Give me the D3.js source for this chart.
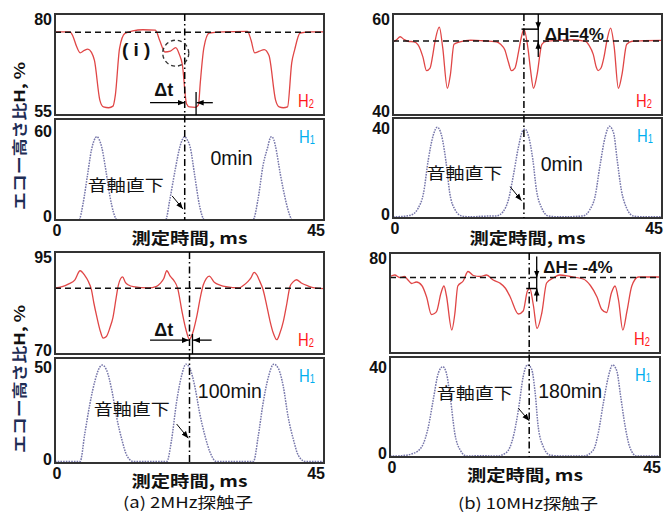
<!DOCTYPE html>
<html lang="ja"><head><meta charset="utf-8">
<script src="https://cdn.jsdelivr.net/npm/d3@7/dist/d3.min.js"></script>
<style>
html,body{margin:0;padding:0;background:#fff;}
svg{display:block;font-family:"Liberation Sans",Arial,sans-serif;}
</style></head><body>
<svg id="chart" width="664" height="512"></svg>
<script>
// ---------------- DATA ----------------
const X_TICKS = [0, 45];
// (a) 2MHz, 0 min : H2 echo height ratio (%)
const a0_H2 = [[0,75.6],[2.5,75.6],[3.0,74.5],[3.6,72],[4.2,70.4],[4.9,71.0],[5.5,71.3],[6.1,70.5],[6.6,68.5],[7.5,58.7],[8.1,57.0],[9.0,56.8],[9.7,57.2],[10.1,60],[10.8,71.5],[11.7,75.2],[13,75.8],[14.7,76.1],[16.8,76.0],[17.5,73.5],[18.4,70.6],[19.3,70.8],[20.2,71.7],[20.8,70.0],[21.3,67.5],[22.0,57.8],[22.5,57.0],[23.5,56.9],[24.0,57.5],[24.3,62.9],[24.9,71.6],[25.8,75.3],[28,75.6],[32.2,75.7],[32.8,73.5],[33.4,70.4],[34.2,70.8],[35.0,71.2],[35.8,69.7],[36.9,58.7],[37.5,57.0],[38.2,56.8],[38.9,57.0],[39.6,67.9],[40.1,71.2],[41.0,75.3],[43,75.6],[45,75.6]];
// (a) 2MHz, 0 min : H1
const a0_H1 = [[0,0],[4.0,0],[4.7,11.3],[5.4,29.4],[6.1,47.5],[6.5,53.5],[7.0,56.5],[7.4,54.5],[7.8,49.7],[8.5,33.9],[9.2,15.8],[9.8,5],[10.4,0],[18.5,0],[19.2,13.6],[20.1,33.9],[20.9,49.7],[21.3,54.5],[21.7,56.5],[22.1,54.5],[22.6,49.7],[23.4,29.4],[24.1,11.3],[24.6,3],[25.0,0],[33.1,0],[34.0,15],[34.8,37],[35.6,49.7],[35.9,54.5],[36.2,56.5],[36.6,54.5],[36.9,49.7],[37.7,31],[38.7,11.3],[39.2,4],[39.7,0],[45,0]];
// (b) 10MHz, 0 min : H2
const b0_H2 = [[0,54.5],[0.6,54.9],[1.2,55.5],[1.8,55.0],[2.5,54.6],[3.5,54.5],[4.2,53.9],[5.0,51.5],[5.6,48.8],[6.2,49.3],[6.6,51.5],[7.0,54.4],[7.75,57.4],[8.3,53.5],[9.1,45.3],[9.6,48],[10.2,54],[11.2,54.5],[13,54.8],[15,54.7],[17.3,54.5],[18.0,54.0],[18.7,52.9],[19.3,50.5],[19.8,48.8],[20.4,49.3],[21.0,52.5],[21.4,55],[21.9,57.0],[22.6,53.0],[23.0,49],[23.5,45.3],[24.1,48],[24.9,54],[25.6,54.6],[28,54.8],[30,54.9],[32.2,54.6],[32.8,53.8],[33.5,52],[34.0,49.5],[34.3,48.8],[34.8,49.3],[35.3,51.5],[35.8,54.8],[36.4,57.2],[37.0,53.5],[37.7,45.3],[38.3,48],[39.1,54],[40,54.6],[42,54.7],[45,54.8]];
// (b) 10MHz, 0 min : H1
const b0_H1 = [[0,0.5],[2.3,0.9],[3.4,1.8],[4.2,4.3],[5.1,11],[5.9,25.8],[6.75,36.9],[7.4,40.3],[8.1,36.9],[8.9,24.3],[9.5,11],[10.4,3.6],[11.5,0.9],[13,0.5],[15,0.8],[17.3,0.9],[18.4,2.8],[19.3,8],[20.1,18.4],[21.0,31.7],[21.7,38.8],[22.1,39.5],[22.6,37],[23.4,25.8],[24.0,12.4],[24.9,4.3],[26,0.9],[28,0.5],[31.8,0.9],[32.9,3.6],[33.8,9.5],[34.6,22.8],[35.5,36.1],[36.2,40.7],[36.9,37.8],[37.5,25.8],[38.2,12.4],[39.1,4.3],[40.2,0.9],[42,0.5],[45,0.5]];
// (a) 2MHz, 100 min : H2
const a1_H2 = [[0,86.2],[1.2,86.5],[2.3,87.2],[3.3,88.1],[4.2,90.4],[5.0,89.2],[5.5,88],[6.1,85.7],[6.5,82.5],[7.0,79.1],[7.6,75.5],[8.05,73.9],[8.6,74.3],[9.2,76.5],[9.7,79],[10.2,83.5],[10.6,86.9],[11.3,88.9],[11.8,87.5],[12.3,86.9],[13.1,86.5],[15.6,86.2],[17.0,86.6],[17.6,87.3],[18.2,88.5],[18.7,90.4],[19.3,89],[19.9,88],[20.5,86.2],[21.3,80],[21.9,76],[22.5,73.6],[23.0,75],[23.7,79.1],[24.4,84.5],[24.8,86.9],[25.3,88.5],[25.8,89.1],[26.7,87.5],[27.6,86.9],[28.6,86.5],[30.8,86.2],[31.5,86.8],[32.3,87.8],[32.8,88.7],[33.3,90],[33.8,89.3],[34.2,88],[34.8,85.8],[35.4,82],[35.95,78.2],[36.5,75.2],[37.1,73.5],[37.6,75],[38.2,78],[38.8,82.5],[39.3,86.5],[39.8,87.6],[40.4,88.2],[41.2,87.4],[42.3,86.7],[43.4,86.2],[45,86]];
// (a) 2MHz, 100 min : H1
const a1_H1 = [[0,0.8],[4.2,0.8],[5.0,15.6],[5.85,31],[6.7,43],[7.5,50],[7.9,51],[8.6,48.6],[9.5,38],[10.3,24],[11.2,12],[12.0,4],[13.1,0.8],[18.7,0.8],[19.5,12],[20.3,31],[21.2,45.8],[21.9,51.5],[22.6,49],[23.4,39.7],[24.2,26],[25.1,14],[25.9,5.9],[27,0.8],[33.2,0.8],[34.0,14],[34.8,31],[35.7,44.8],[36.6,51.5],[37.4,49],[38.2,39.7],[39.0,24],[39.9,12],[40.7,4],[41.9,0.8],[45,0.8]];
// (b) 10MHz, 180 min : H2
const b1_H2 = [[0,75.3],[0.8,75.6],[1.6,75.1],[2.4,75.3],[3.0,74.6],[3.6,73.9],[4.4,74.2],[5.3,73.5],[6.1,71.2],[6.9,67.7],[7.4,67.9],[7.8,68.4],[8.5,72],[9.0,73.4],[9.4,71.5],[10.3,64.6],[10.8,67.8],[11.3,73.4],[12.2,74.4],[13.0,76.3],[13.9,75.5],[15,75.3],[16.1,75.6],[17.2,74.6],[18.3,74.0],[19.2,73.0],[20.0,71.3],[21.4,67.8],[22.2,68.4],[22.9,72.4],[23.3,72.9],[23.9,69.5],[24.5,64.9],[25.3,68],[26.1,74],[27.2,75],[28.3,75.6],[30,75.3],[32.2,74.8],[33.4,73.5],[34.5,71.2],[35.3,68.7],[36.1,68.1],[36.9,72],[37.5,73.4],[38.1,70.5],[38.8,64.6],[39.5,68.4],[40.3,73.4],[41.4,75.2],[45,75.2]];
// (b) 10MHz, 180 min : H1
const b1_H1 = [[0,0.4],[2,0.6],[3.9,1.6],[5.3,4.6],[6.4,13.5],[7.2,25.3],[8.05,37.2],[8.8,40.1],[9.4,37.2],[10.1,25.3],[10.8,10.5],[11.7,3.1],[12.8,0.4],[15,0.6],[17.8,0.4],[19.4,2],[20.55,9],[21.4,20.9],[22.2,35.7],[22.9,40.9],[23.6,39],[24.2,28.3],[24.7,13.5],[25.55,4.6],[26.7,0.8],[29,0.4],[32.2,0.4],[33.9,3.1],[34.7,10.5],[35.55,23.8],[36.4,35.7],[37.1,40.9],[37.8,38.2],[38.45,26.8],[39.2,13.5],[40,4.1],[41.1,0.4],[45,0.4]];

const H2_SERIES = [a0_H2, b0_H2, a1_H2, b1_H2];
const H1_SERIES = [a0_H1, b0_H1, a1_H1, b1_H1];
const H2_DOMAINS = [[55,80],[40,60],[70,95],[60,80]];
const H1_DOMAINS = [[0,68.5],[0,44.4],[0,54.7],[0,44.4]];
const H2_TICKS = [[55,80],[40,60],[70,95],[80]];
const H1_TICKS = [[0,60],[0,40],[0,50],[0,40]];
const BASE_H2 = [75.5, 54.65, 86.1, 75.1];      // dashed reference level
const AXIS_T = [21.7, 21.9, 22.5, 23.2];          // 音軸直下 time (ms)
const TIME_LABELS = ['0min','0min','100min','180min'];
const CAPTIONS = ['(a) 2MHz探触子','(b) 10MHz探触子'];
const X_TITLE = '測定時間, ms';
const Y_TITLE_JP = 'エコー高さ比';
const Y_TITLE_EN = 'H, %';
const DIR_LABEL = '音軸直下';

// ---------------- LAYOUT ----------------
const layout = [
  {x0:55,  x1:324, h2:[14,115],  h1:[119,220], titleDy:24},
  {x0:393, x1:662, h2:[14,115],  h1:[118,218], titleDy:26},
  {x0:55,  x1:324, h2:[252,354], h1:[358,463], titleDy:24},
  {x0:390, x1:660, h2:[253,353], h1:[357,457], titleDy:24}
];
const captionPos = [[188,508,130],[528,509,140]];
// annotation anchors in data units (t, value)
const timeLabelPos = [[26.0,37.3],[24.7,20.9],[23.9,34],[24.7,26.4]];
const dirLabelPos  = [[5.5,20.0],[5.6,17.3],[6.5,25],[7.8,25.6]];
const dirArrow     = [[19.6,16.3,21.4,7.5],[19.6,13.9,21.5,7.7],[20.35,20.3,22.3,12.9],[21.4,21.6,23.2,16.1]];
const dtAnn = [
  {p:0, text:[16.6,59.6], y:58.05, a1:[15.9,21.7], a2:[26.4,23.7], tick:[23.6,60.7]},
  {p:2, text:[16.6,74.3], y:73.4,  a1:[15.9,22.4], a2:[26.2,23.1], tick:[23.0,74.9]}
];
const dHAnn = [
  {p:1, text:'ΔH=4%',   tpos:[25.4,54.9], vx:24.3,  vr:[60,51.5],   hx:[21.5,24.4], hy:57.0, down:57.0, up:54.5},
  {p:3, text:'ΔH= -4%', tpos:[25.55,76],  vx:24.45, vr:[79.3,70.3], hx:[22.7,24.5], hy:72.9, down:75.1, up:72.9}
];

// ---------------- DRAW ----------------
const svg = d3.select('#chart');
const defs = svg.append('defs');
defs.append('marker').attr('id','arr').attr('viewBox','0 0 10 10')
  .attr('refX',10).attr('refY',5).attr('markerWidth',7).attr('markerHeight',7)
  .attr('markerUnits','userSpaceOnUse').attr('orient','auto')
  .append('path').attr('d','M0,1 L10,5 L0,9 z').attr('fill','#000');

const JP = '"Noto Sans CJK JP","Noto Sans",sans-serif';
const scales = [];

layout.forEach((L,i)=>{
  const x  = d3.scaleLinear().domain(X_TICKS).range([L.x0,L.x1]);
  const y2 = d3.scaleLinear().domain(H2_DOMAINS[i]).range([L.h2[1],L.h2[0]]);
  const y1 = d3.scaleLinear().domain(H1_DOMAINS[i]).range([L.h1[1],L.h1[0]]);
  scales.push({x,y2,y1});
  const g = svg.append('g');

  // H2 curve
  g.append('path').datum(H2_SERIES[i])
    .attr('d', d3.line().x(d=>x(d[0])).y(d=>y2(d[1])).curve(d3.curveMonotoneX))
    .attr('fill','none').attr('stroke','#e04646').attr('stroke-width',1.3);
  // dashed reference
  g.append('line').attr('x1',x(X_TICKS[0])).attr('x2',x(X_TICKS[1]))
    .attr('y1',y2(BASE_H2[i])).attr('y2',y2(BASE_H2[i]))
    .attr('stroke','#111').attr('stroke-width',1.5).attr('stroke-dasharray','6 4');
  // H1 curve (dotted)
  g.append('path').datum(H1_SERIES[i])
    .attr('d', d3.line().x(d=>x(d[0])).y(d=>y1(d[1])).curve(d3.curveMonotoneX))
    .attr('fill','none').attr('stroke','#7676aa').attr('stroke-width',1.5).attr('stroke-dasharray','1.6 1.1');

  // boxes
  [L.h2,L.h1].forEach(r=>{
    g.append('rect').attr('x',L.x0).attr('y',r[0]).attr('width',L.x1-L.x0).attr('height',r[1]-r[0])
      .attr('fill','none').attr('stroke','#333').attr('stroke-width',2);
  });

  // vertical dash-dot line (音軸直下)
  g.append('line').attr('x1',x(AXIS_T[i])).attr('x2',x(AXIS_T[i]))
    .attr('y1',L.h2[0]).attr('y2',L.h1[1])
    .attr('stroke','#000').attr('stroke-width',1.5).attr('stroke-dasharray','7 3 1.5 3');

  // y axes
  const tickFont = g2 => g2.selectAll('text').attr('font-family','"Liberation Sans",Arial,sans-serif')
      .attr('font-weight','bold').attr('font-size',16).attr('fill','#111');
  [[y2,H2_TICKS[i],L.h2],[y1,H1_TICKS[i],L.h1]].forEach(([ys,tv,r])=>{
    const ax = g.append('g').attr('transform',`translate(${L.x0},0)`)
      .call(d3.axisLeft(ys).tickValues(tv).tickSize(0).tickPadding(3).tickFormat(d3.format('d')));
    ax.select('.domain').remove();
    ax.call(tickFont);
    ax.selectAll('.tick text').attr('y', d=>{
      const p = ys(d); const c = Math.max(r[0]+5, Math.min(r[1]-4, p)); return c-p;
    });
  });
  // x axis labels
  const xa = g.append('g').attr('transform',`translate(0,${L.h1[1]+16})`);
  xa.selectAll('text').data(X_TICKS).join('text')
    .attr('x', d=>x(d)+(d===X_TICKS[0]?2:1)).attr('text-anchor',d=>d===X_TICKS[0]?'middle':'end')
    .attr('font-weight','bold').attr('font-size',16).attr('fill','#111')
    .text(d=>d);
  g.append('text').attr('x',(L.x0+L.x1)/2).attr('y',L.h1[1]+L.titleDy).attr('text-anchor','middle')
    .attr('font-family',JP).attr('font-weight','bold')
    .attr('font-size',15.5).attr('textLength',116).attr('lengthAdjust','spacingAndGlyphs')
    .attr('fill','#111').text(X_TITLE);

  // H labels
  const hLab = (px,py,sub,color)=>{
    const t = g.append('text').attr('transform',`translate(${px},${py}) scale(0.78,1)`)
      .attr('font-size',19).attr('fill',color);
    t.append('tspan').text('H');
    t.append('tspan').attr('font-size',12).attr('dy',1).text(sub);
  };
  hLab(L.x1-26, L.h2[1]-8, '2', '#ff1a1a');
  hLab(L.x1-25, L.h1[0]+24, '1', '#00aeef');

  // time label
  g.append('text').attr('x',x(timeLabelPos[i][0])).attr('y',y1(timeLabelPos[i][1]))
    .attr('font-size',19.5).attr('fill','#111').text(TIME_LABELS[i]);
  // 音軸直下 label + arrow
  g.append('text').attr('x',x(dirLabelPos[i][0])).attr('y',y1(dirLabelPos[i][1]))
    .attr('font-family',JP).attr('font-size',16).attr('textLength',76).attr('lengthAdjust','spacingAndGlyphs')
    .attr('fill','#111').text(DIR_LABEL);
  const da = dirArrow[i];
  g.append('line').attr('x1',x(da[0])).attr('y1',y1(da[1])).attr('x2',x(da[2])).attr('y2',y1(da[3]))
    .attr('stroke','#000').attr('stroke-width',1).attr('marker-end','url(#arr)');
});

// Δt annotations
dtAnn.forEach(a=>{
  const {x,y2} = scales[a.p]; const L = layout[a.p];
  const g = svg.append('g');
  g.append('line').attr('x1',x(a.a1[0])).attr('x2',x(a.a1[1])).attr('y1',y2(a.y)).attr('y2',y2(a.y))
    .attr('stroke','#000').attr('stroke-width',1.3).attr('marker-end','url(#arr)');
  g.append('line').attr('x1',x(a.a2[0])).attr('x2',x(a.a2[1])).attr('y1',y2(a.y)).attr('y2',y2(a.y))
    .attr('stroke','#000').attr('stroke-width',1.3).attr('marker-end','url(#arr)');
  g.append('line').attr('x1',x(a.tick[0])).attr('x2',x(a.tick[0])).attr('y1',y2(a.tick[1])).attr('y2',L.h2[1])
    .attr('stroke','#000').attr('stroke-width',1.3);
  g.append('text').attr('x',x(a.text[0])).attr('y',y2(a.text[1])).attr('font-weight','bold')
    .attr('font-size',18).attr('fill','#111').text('Δt');
});

// (i) marker in panel a0
{
  const {x,y2} = scales[0];
  svg.append('circle').attr('cx',x(20.2)).attr('cy',y2(70.3)).attr('r',13)
    .attr('fill','none').attr('stroke','#333').attr('stroke-width',1.4).attr('stroke-dasharray','4 3');
  svg.append('text').attr('x',x(11.2)).attr('y',y2(69.6)).attr('font-weight','bold')
    .attr('font-size',19).attr('fill','#111').attr('xml:space','preserve').text('( i )');
}

// ΔH annotations
dHAnn.forEach(a=>{
  const {x,y2} = scales[a.p];
  const g = svg.append('g');
  g.append('line').attr('x1',x(a.vx)).attr('x2',x(a.vx)).attr('y1',y2(a.vr[0])).attr('y2',y2(a.vr[1]))
    .attr('stroke','#000').attr('stroke-width',1.3);
  g.append('line').attr('x1',x(a.hx[0])).attr('x2',x(a.hx[1])).attr('y1',y2(a.hy)).attr('y2',y2(a.hy))
    .attr('stroke','#000').attr('stroke-width',1.5);
  g.append('line').attr('x1',x(a.vx)).attr('x2',x(a.vx)).attr('y1',y2(a.down)-8).attr('y2',y2(a.down))
    .attr('stroke','#000').attr('stroke-width',1.3).attr('marker-end','url(#arr)');
  g.append('line').attr('x1',x(a.vx)).attr('x2',x(a.vx)).attr('y1',y2(a.up)+8).attr('y2',y2(a.up))
    .attr('stroke','#000').attr('stroke-width',1.3).attr('marker-end','url(#arr)');
  g.append('text').attr('x',x(a.tpos[0])).attr('y',y2(a.tpos[1])).attr('font-weight','bold')
    .attr('font-size',17).attr('fill','#111').text(a.text);
});

// Y titles
[136,379].forEach(cy=>{
  const t = svg.append('text').attr('transform',`translate(25,${cy}) rotate(-90)`)
    .attr('text-anchor','middle')
    .attr('font-family',JP).attr('font-weight','bold').attr('font-size',14.5)
    .attr('textLength',148).attr('lengthAdjust','spacingAndGlyphs');
  t.append('tspan').attr('fill','#1f2d55').text(Y_TITLE_JP);
  t.append('tspan').attr('fill','#111').text(Y_TITLE_EN);
});

// captions
CAPTIONS.forEach((c,k)=>{
  svg.append('text').attr('x',captionPos[k][0]).attr('y',captionPos[k][1]).attr('text-anchor','middle')
    .attr('font-family',JP).attr('font-size',15).attr('textLength',captionPos[k][2])
    .attr('lengthAdjust','spacingAndGlyphs').attr('fill','#111').text(c);
});
</script></body></html>
